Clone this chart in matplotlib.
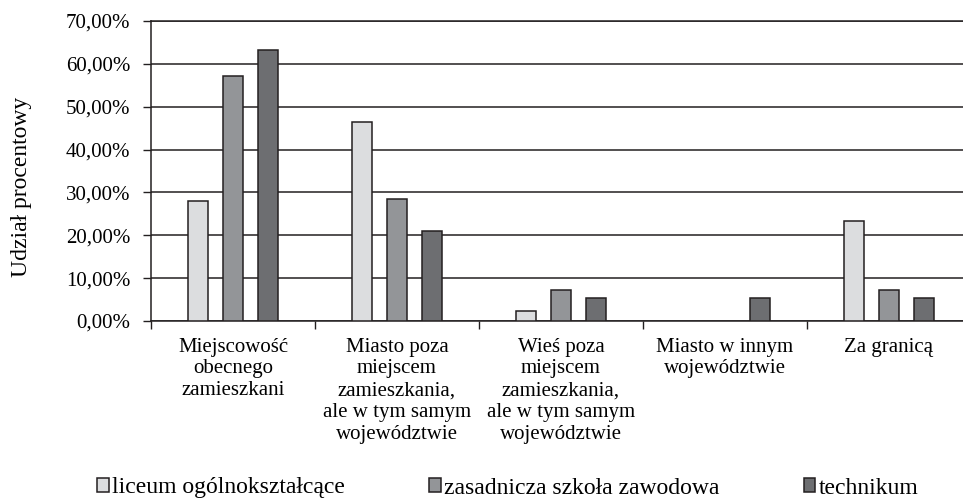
import numpy as np
import matplotlib
matplotlib.use('Agg')
import matplotlib.pyplot as plt
from matplotlib.patches import Patch
from matplotlib.ticker import FuncFormatter

plt.rcParams['font.family'] = ['Liberation Serif', 'DejaVu Serif']

categories = ['Miejscowość\nobecnego\nzamieszkani',
              'Miasto poza\nmiejscem\nzamieszkania,\nale w tym samym\nwojewództwie',
              'Wieś poza\nmiejscem\nzamieszkania,\nale w tym samym\nwojewództwie',
              'Miasto w innym\nwojewództwie',
              'Za granicą']
series_names = ['liceum ogólnokształcące', 'zasadnicza szkoła zawodowa', 'technikum']
liceum = [27.91, 46.51, 2.33, 0.0, 23.26]
zasadnicza = [57.14, 28.57, 7.14, 0.0, 7.14]
technikum = [63.16, 21.05, 5.26, 5.26, 5.26]
y_ticks = [0, 10, 20, 30, 40, 50, 60, 70]

colors = ['#dcdddf', '#939598', '#6d6e71']
edge = '#231f20'

W, H = 963, 499
fig = plt.figure(figsize=(W / 100, H / 100), dpi=100)
ax = fig.add_axes([151 / W, (H - 321) / H, 820 / W, 300 / H])

x = np.arange(len(categories))
offset = 0.213
width = 0.125
for i, vals in enumerate([liceum, zasadnicza, technikum]):
    # zero values get no outline, as in the original
    lw = [1.1 if v > 0 else 0 for v in vals]
    ax.bar(x + (i - 1) * offset, vals, width, color=colors[i],
           edgecolor=edge, linewidth=lw, zorder=3)

ax.set_xlim(-0.5, len(categories) - 0.5)
ax.set_ylim(0, 70)
ax.set_yticks(y_ticks)
ax.yaxis.set_major_formatter(FuncFormatter(lambda v, p: f'{v:.2f}'.replace('.', ',') + '%'))
ax.grid(axis='y', color=edge, linewidth=1.1, zorder=0)

ax.set_xticks(x)
ax.set_xticklabels(categories, fontsize=15, linespacing=1.2)
ax.set_xticks(np.arange(len(categories) + 1) - 0.5, minor=True)
ax.tick_params(axis='x', which='major', length=0, pad=12)
ax.tick_params(axis='x', which='minor', length=6, width=1.0, color=edge, direction='out')
ax.tick_params(axis='y', length=6, width=1.0, color=edge, labelsize=15, pad=9)

ax.spines['right'].set_visible(False)
for s in ['left', 'bottom', 'top']:
    ax.spines[s].set_color(edge)
    ax.spines[s].set_linewidth(1.1)

fig.text(22 / W, 1 - 187 / H, 'Udział procentowy', rotation=90,
         ha='center', va='center', fontsize=17)

handles = [Patch(facecolor=c, edgecolor=edge, linewidth=1.1) for c in colors]
fig.legend(handles, series_names, loc='center left', ncol=3,
           bbox_to_anchor=(97 / W, 1 - 488 / H), frameon=False, fontsize=17,
           handlelength=0.5, handleheight=0.5, handletextpad=0.15,
           columnspacing=3.55, borderpad=0, borderaxespad=0)

fig.savefig('out.png', dpi=100)
